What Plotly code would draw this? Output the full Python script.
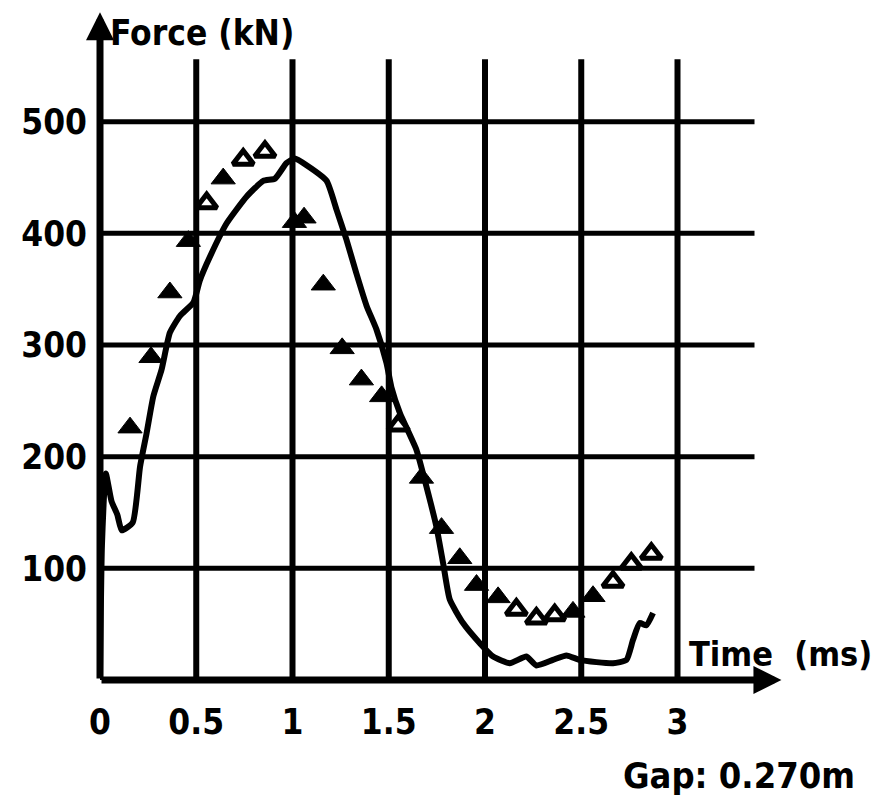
import plotly.graph_objects as go

# Measured force curve (kN) vs time (ms)
curve_t = [0.0, 0.01, 0.03, 0.06, 0.09, 0.113, 0.17, 0.208, 0.242, 0.277, 0.32, 0.363, 0.415, 0.485,
           0.519, 0.571, 0.658, 0.762, 0.848, 0.909, 0.969, 1.012, 1.073, 1.177, 1.229, 1.281,
           1.332, 1.385, 1.436, 1.488, 1.514, 1.558, 1.644, 1.696, 1.748, 1.782, 1.817, 1.886,
           1.973, 2.042, 2.129, 2.215, 2.267, 2.353, 2.423, 2.492, 2.579, 2.665, 2.735, 2.769,
           2.804, 2.838, 2.873]
curve_f = [0, 120, 185, 160, 148, 134, 141, 191, 221, 254, 278, 311, 326, 338,
           358, 379, 409, 433, 447, 449, 463, 467, 461, 447, 421, 394,
           364, 335, 314, 284, 262, 239, 206, 173, 137, 105, 72, 51,
           33, 21, 15, 21, 13, 18, 22, 18, 16, 15, 18, 36,
           51, 49, 60]

# Calculated points (triangles): filled and hollow
filled_t = [0.156, 0.265, 0.363, 0.459, 0.64, 1.01, 1.06, 1.16, 1.258, 1.358, 1.463, 1.67,
            1.774, 1.869, 1.956, 2.068, 2.457, 2.561]
filled_f = [226, 289, 347, 393, 449, 410, 414, 354, 297, 269, 254, 181,
            136, 109, 85, 74, 61, 75]
hollow_t = [0.554, 0.744, 0.857, 1.549, 2.163, 2.267, 2.362, 2.665, 2.76, 2.864]
hollow_f = [427, 466, 473, 228, 63, 55, 58, 88, 104, 113]

x_ticks = [0, 0.5, 1, 1.5, 2, 2.5, 3]
x_tick_text = ["0", "0.5", "1", "1.5", "2", "2.5", "3"]
y_ticks = [100, 200, 300, 400, 500]
y_tick_text = ["100", "200", "300", "400", "500"]

FONT = "DejaVu Sans Condensed, DejaVu Sans, sans-serif"
BLACK = "#000000"

fig = go.Figure()

fig.add_trace(go.Scatter(x=curve_t, y=curve_f, mode="lines",
                         line=dict(color=BLACK, width=6, shape="spline", smoothing=0.5),
                         showlegend=False, hoverinfo="skip"))
fig.add_trace(go.Scatter(x=filled_t, y=filled_f, mode="markers",
                         marker=dict(symbol="triangle-up", size=21, color=BLACK,
                                     line=dict(color=BLACK, width=1)),
                         showlegend=False))
fig.add_trace(go.Scatter(x=hollow_t, y=hollow_f, mode="markers",
                         marker=dict(symbol="triangle-up", size=18, color="white",
                                     line=dict(color=BLACK, width=5)),
                         showlegend=False))

shapes = []
for xv in x_ticks[1:]:
    shapes.append(dict(type="line", xref="x", yref="y", x0=xv, x1=xv, y0=0, y1=556,
                       line=dict(color=BLACK, width=6), layer="below"))
for yv in y_ticks:
    shapes.append(dict(type="line", xref="x", yref="y", x0=0, x1=3.4, y0=yv, y1=yv,
                       line=dict(color=BLACK, width=5), layer="below"))

plot_l, plot_r, plot_t, plot_b = 100, 86, 10, 123
pw = 879 - plot_l - plot_r
ph = 803 - plot_t - plot_b

annotations = [
    # axis arrows
    dict(x=0, y=598, ax=0, ay=0, xref="x", yref="y", axref="x", ayref="y",
         showarrow=True, arrowhead=2, arrowsize=0.8, arrowwidth=7, arrowcolor=BLACK, text=""),
    dict(x=3.54, y=0, ax=0, ay=0, xref="x", yref="y", axref="x", ayref="y",
         showarrow=True, arrowhead=2, arrowsize=0.8, arrowwidth=7, arrowcolor=BLACK, text=""),
    dict(x=0.04, y=579, xref="x", yref="y", text="Force (kN)", showarrow=False,
         xanchor="left", yanchor="middle",
         font=dict(family=FONT, size=35, color=BLACK, weight="bold")),
    dict(x=3.05, y=23, xref="x", yref="y", text="Time  (ms)", showarrow=False,
         xanchor="left", yanchor="middle",
         font=dict(family=FONT, size=34, color=BLACK, weight="bold")),
    dict(x=(857 - plot_l) / pw, y=(803 - plot_b - 775) / ph, xref="paper", yref="paper",
         text="Gap: 0.270m", showarrow=False, xanchor="right", yanchor="middle",
         font=dict(family=FONT, size=36, color=BLACK, weight="bold")),
]

fig.update_layout(
    width=879, height=803,
    margin=dict(l=plot_l, r=plot_r, t=plot_t, b=plot_b),
    paper_bgcolor="white", plot_bgcolor="white",
    shapes=shapes, annotations=annotations,
    xaxis=dict(range=[0, 3.6], showgrid=False, zeroline=False, showline=False,
               tickvals=x_ticks, ticktext=x_tick_text, ticks="",
               ticklabelstandoff=18,
               tickfont=dict(family=FONT, size=35, color=BLACK, weight="bold")),
    yaxis=dict(range=[0, 600], showgrid=False, zeroline=False, showline=False,
               tickvals=y_ticks, ticktext=y_tick_text, ticks="",
               ticklabelstandoff=12,
               tickfont=dict(family=FONT, size=35, color=BLACK, weight="bold")),
)

fig.write_html("out.html")
